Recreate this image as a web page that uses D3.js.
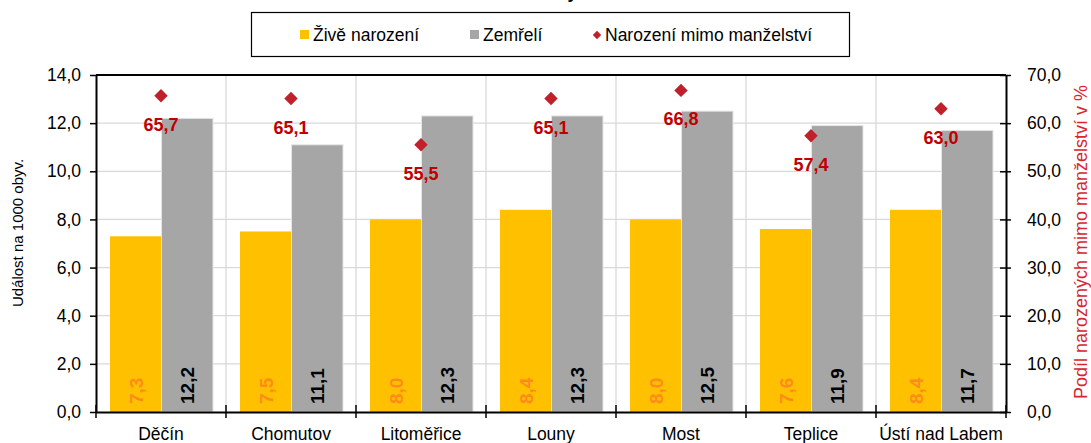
<!DOCTYPE html>
<html>
<head>
<meta charset="utf-8">
<script src="https://cdn.jsdelivr.net/npm/d3@7"></script>
<style>
  body { margin: 0; background: #fff; }
  svg { display: block; font-family: "Liberation Sans", Arial, sans-serif; }
</style>
</head>
<body>
<script>
// data
const okresy = ["Děčín", "Chomutov", "Litoměřice", "Louny", "Most", "Teplice", "Ústí nad Labem"];
const zivenarozeni = [7.3, 7.5, 8.0, 8.4, 8.0, 7.6, 8.4];
const zemreli = [12.2, 11.1, 12.3, 12.3, 12.5, 11.9, 11.7];
const mimoManzelstvi = [65.7, 65.1, 55.5, 65.1, 66.8, 57.4, 63.0];
const leftTicks = [0, 2, 4, 6, 8, 10, 12, 14];
const rightTicks = [0, 10, 20, 30, 40, 50, 60, 70];

const W = 1091, H = 443;
const margin = { top: 75, right: 85, bottom: 31, left: 96 };
const width = W - margin.left - margin.right,
  height = H - margin.top - margin.bottom;

const fmt = v => d3.format(".1f")(v).replace(".", ",");
const FS = 17.5;

const svg = d3.select("body").append("svg")
  .attr("width", W).attr("height", H);

// title (mostly above the visible area)
svg.append("text")
  .attr("x", margin.left + width / 2 - 4).attr("y", -2)
  .attr("text-anchor", "middle")
  .attr("font-size", 18).attr("font-weight", "bold")
  .text("Okresy");

const g = svg.append("g")
  .attr("transform", "translate(" + margin.left + "," + margin.top + ")");

const x = d3.scaleBand().domain(okresy).range([0, width]);
const x1 = d3.scaleBand().domain([0, 1]).range([14, x.bandwidth() - 13]);
const y = d3.scaleLinear().domain([0, 14]).range([height, 0]);
const y2 = d3.scaleLinear().domain([0, 70]).range([height, 0]);

// grid
g.selectAll(".hgrid").data(leftTicks.slice(1)).enter().append("line")
  .attr("x1", 0).attr("x2", width)
  .attr("y1", d => y(d)).attr("y2", d => y(d))
  .attr("stroke", "#d9d9d9").attr("stroke-width", 1.3);
g.selectAll(".vgrid").data(okresy.slice(1)).enter().append("line")
  .attr("x1", d => x(d)).attr("x2", d => x(d))
  .attr("y1", 0).attr("y2", height)
  .attr("stroke", "#d9d9d9").attr("stroke-width", 1.3);

// bars
const series = [
  { vals: zivenarozeni, fill: "#ffc000", label: "#ff8c1a" },
  { vals: zemreli, fill: "#a6a6a6", label: "#000" }
];
series.forEach((s, si) => {
  g.selectAll(".bar" + si).data(okresy).enter().append("rect")
    .attr("x", d => x(d) + x1(si))
    .attr("width", x1.bandwidth())
    .attr("y", (d, i) => y(s.vals[i]))
    .attr("height", (d, i) => height - y(s.vals[i]))
    .attr("fill", s.fill)
    .attr("stroke", si === 1 ? "#e6e6e6" : "none").attr("stroke-width", 1);
  g.selectAll(".lab" + si).data(okresy).enter().append("text")
    .attr("transform", d => "translate(" + (x(d) + x1(si) + x1.bandwidth() / 2 + 7) + "," + (height - 8) + ") rotate(-90)")
    .attr("font-size", 19).attr("font-weight", "bold")
    .attr("fill", s.label)
    .text((d, i) => fmt(s.vals[i]));
});

// diamonds
const diamond = d3.symbol().type(d3.symbolDiamond2).size(115);
g.selectAll(".dia").data(okresy).enter().append("path")
  .attr("d", diamond)
  .attr("transform", (d, i) => "translate(" + (x(d) + x.bandwidth() / 2) + "," + y2(mimoManzelstvi[i]) + ")")
  .attr("fill", "#c0202a");
g.selectAll(".dlab").data(okresy).enter().append("text")
  .attr("x", d => x(d) + x.bandwidth() / 2)
  .attr("y", (d, i) => y2(mimoManzelstvi[i]) + 35)
  .attr("text-anchor", "middle")
  .attr("font-size", 18).attr("font-weight", "bold")
  .attr("fill", "#c00000")
  .text((d, i) => fmt(mimoManzelstvi[i]));

// axes
const styleAxis = sel => {
  sel.select(".domain").attr("stroke", "#000").attr("stroke-width", 2);
  sel.selectAll(".tick line").attr("stroke", "#000").attr("stroke-width", 1.5);
  sel.selectAll(".tick text").attr("font-size", FS).attr("fill", "#000")
    .attr("font-family", "'Liberation Sans', Arial, sans-serif");
};

const yl = g.append("g")
  .call(d3.axisLeft(y).tickValues(leftTicks).tickFormat(fmt).tickSize(6).tickSizeOuter(0).tickPadding(9));
yl.selectAll(".tick line").attr("x2", -6).attr("x1", 1);
styleAxis(yl);

const yr = g.append("g").attr("transform", "translate(" + width + ",0)")
  .call(d3.axisRight(y2).tickValues(rightTicks).tickFormat(fmt).tickSize(6).tickSizeOuter(0).tickPadding(15));
yr.selectAll(".tick line").attr("x1", -6).attr("x2", 5);
styleAxis(yr);

// top border
g.append("line").attr("x1", 0).attr("x2", width).attr("y1", 0).attr("y2", 0)
  .attr("stroke", "#000").attr("stroke-width", 2);

const xa = g.append("g").attr("transform", "translate(0," + height + ")")
  .call(d3.axisBottom(x).tickSize(0).tickPadding(16));
styleAxis(xa);
xa.selectAll(".edge").data(d3.range(okresy.length + 1)).enter().append("line")
  .attr("x1", i => i * x.step()).attr("x2", i => i * x.step())
  .attr("y1", -7).attr("y2", 6)
  .attr("stroke", "#000").attr("stroke-width", 1.5);

// axis titles
svg.append("text")
  .attr("transform", "translate(23," + 233 + ") rotate(-90)")
  .attr("text-anchor", "middle").attr("font-size", 15)
  .text("Událost na 1000 obyv.");
svg.append("text")
  .attr("transform", "translate(1087," + 242 + ") rotate(-90)")
  .attr("text-anchor", "middle").attr("font-size", 18).attr("fill", "#d9262e")
  .text("Podíl narozených mimo manželství v %");

// legend
const leg = svg.append("g");
leg.append("rect").attr("x", 251.5).attr("y", 12.5).attr("width", 598).attr("height", 44)
  .attr("fill", "#fff").attr("stroke", "#000").attr("stroke-width", 1.2);
const legItems = [
  { name: "Živě narození", color: "#ffc000", kind: "sq", x: 300 },
  { name: "Zemřelí", color: "#a6a6a6", kind: "sq", x: 470 },
  { name: "Narození mimo manželství", color: "#c0202a", kind: "dia", x: 592 }
];
legItems.forEach(it => {
  if (it.kind === "sq") {
    leg.append("rect").attr("x", it.x).attr("y", 30).attr("width", 9).attr("height", 9).attr("fill", it.color);
  } else {
    leg.append("path").attr("d", d3.symbol().type(d3.symbolDiamond2).size(45))
      .attr("transform", "translate(" + (it.x + 5) + ",35)").attr("fill", it.color);
  }
  leg.append("text").attr("x", it.x + 13).attr("y", 41).attr("font-size", FS).text(it.name);
});
</script>
</body>
</html>
